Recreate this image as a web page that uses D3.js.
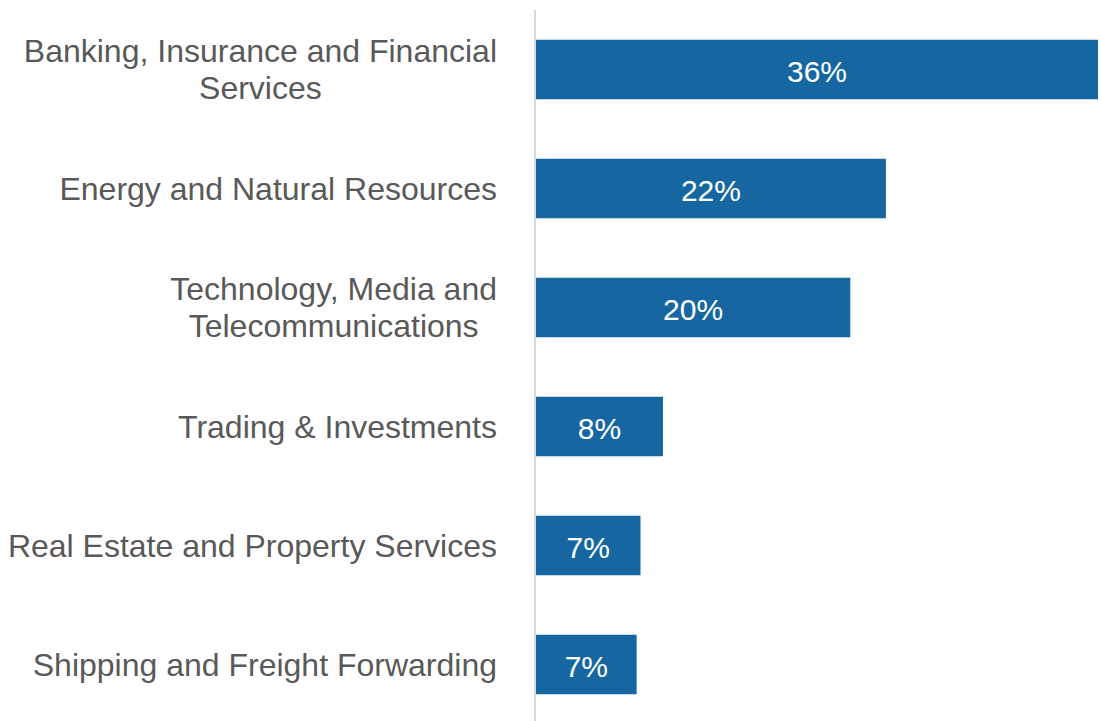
<!DOCTYPE html>
<html>
<head>
<meta charset="utf-8">
<script src="https://cdn.jsdelivr.net/npm/d3@7"></script>
<style>
  html, body { margin: 0; padding: 0; background: #ffffff; }
  svg { display: block; }
</style>
</head>
<body>
<svg id="chart" width="1101" height="721"></svg>
<script>
// Data
const categories = [
  ["Banking, Insurance and Financial", "Services"],
  ["Energy and Natural Resources"],
  ["Technology, Media and", "Telecommunications"],
  ["Trading & Investments"],
  ["Real Estate and Property Services"],
  ["Shipping and Freight Forwarding"]
];
const values = [36.3, 22.6, 20.3, 8.2, 6.75, 6.5];
const valueLabels = ["36%", "22%", "20%", "8%", "7%", "7%"];

const svg = d3.select("#chart");
const W = 1101, H = 721;
const mLeft = 535, mRight = 1098, mTop = 10, mBottom = 724;

const x = d3.scaleLinear().domain([0, d3.max(values)]).range([mLeft + 1, mRight]);
const y = d3.scaleBand().domain(d3.range(categories.length)).range([mTop, mBottom]).paddingInner(0.5).paddingOuter(0.25);

const barColor = "#1667a1";

// bars
svg.append("g").selectAll("rect")
  .data(values)
  .join("rect")
  .attr("x", x(0))
  .attr("y", (d, i) => y(i))
  .attr("width", d => x(d) - x(0))
  .attr("height", y.bandwidth())
  .attr("fill", barColor);

// axis line
svg.append("line")
  .attr("x1", mLeft).attr("x2", mLeft)
  .attr("y1", mTop).attr("y2", H)
  .attr("stroke", "#d9d9d9")
  .attr("stroke-width", 2);

// value labels
svg.append("g").selectAll("text")
  .data(values)
  .join("text")
  .attr("x", d => (x(0) + x(d)) / 2)
  .attr("y", (d, i) => y(i) + y.bandwidth() / 2)
  .attr("dy", "0.4em")
  .attr("text-anchor", "middle")
  .attr("fill", "#ffffff")
  .style("font-family", "'Liberation Sans', Arial, sans-serif")
  .style("font-size", "30px")
  .text((d, i) => valueLabels[i]);

// category labels
const lineH = 37;
const catG = svg.append("g");
categories.forEach((lines, i) => {
  const cy = y(i) + y.bandwidth() / 2;
  const t = catG.append("text")
    .attr("text-anchor", "middle")
    .attr("fill", "#595959")
    .style("font-family", "'Liberation Sans', Arial, sans-serif")
    .style("font-size", "32px");
  lines.forEach((ln, j) => {
    t.append("tspan")
      .attr("x", 0)
      .attr("y", cy + (j - (lines.length - 1) / 2) * lineH)
      .attr("dy", "0.35em")
      .text(ln);
  });
  const bb = t.node().getBBox();
  t.attr("transform", `translate(${497 - bb.width / 2},0)`);
});
</script>
</body>
</html>
